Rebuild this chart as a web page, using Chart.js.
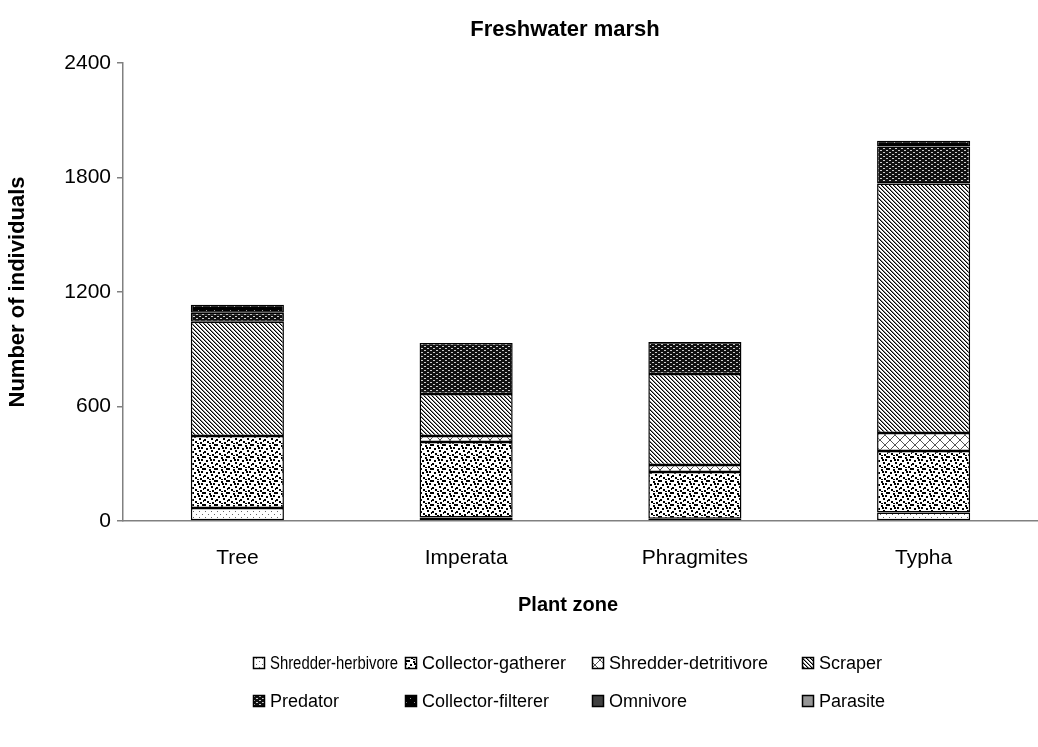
<!DOCTYPE html>
<html>
<head>
<meta charset="utf-8">
<script src="https://cdn.jsdelivr.net/npm/chart.js"></script>
<style>
  html, body { margin: 0; padding: 0; background: #fff; }
  #wrap { width: 1038px; height: 747px; }
</style>
</head>
<body>
<div id="wrap"><canvas id="chart" width="1038" height="747"></canvas></div>
<script>
// Data
const zones = ['Tree', 'Imperata', 'Phragmites', 'Typha'];
const groups = ['Shredder-herbivore', 'Collector-gatherer', 'Shredder-detritivore', 'Scraper',
                'Predator', 'Collector-filterer', 'Omnivore', 'Parasite'];
const shredderHerbivore   = [68, 18, 12, 45];
const collectorGatherer   = [378, 396, 245, 322];
const shredderDetritivore = [0, 31, 36, 94];
const scraper             = [598, 220, 477, 1308];
const predator            = [47, 268, 168, 193];
const collectorFilterer   = [42, 0, 0, 31];
const omnivore            = [0, 0, 0, 0];
const parasite            = [0, 0, 0, 0];
const yTicks = [0, 600, 1200, 1800, 2400];

const FONT = "'Liberation Sans', Arial, sans-serif";

// Excel-style fill patterns
function makePattern(w, h, draw) {
  const c = document.createElement('canvas');
  c.width = w; c.height = h;
  const g = c.getContext('2d');
  draw(g);
  return g.createPattern(c, 'repeat');
}
const px = (g, x, y, col, w = 1, h = 1) => { g.fillStyle = col; g.fillRect(x, y, w, h); };

const patShredHerb = makePattern(6, 6, g => {
  px(g, 0, 0, '#fff', 6, 6);
  px(g, 1, 1, '#666'); px(g, 4, 4, '#666');
});
const patCollGath = makePattern(12, 12, g => {
  px(g, 0, 0, '#fff', 12, 12);
  [[0,0],[5,1],[9,3],[2,4],[7,6],[11,8],[3,9],[8,10],[0,7],[5,11],[10,0],[6,3]].forEach(([x, y]) => px(g, x, y, '#000', 2, 2));
});
const patShredDet = makePattern(10, 10, g => {
  px(g, 0, 0, '#fff', 10, 10);
  for (let i = 0; i < 10; i++) { px(g, i, i, '#555'); px(g, 9 - i, i, '#555'); }
});
const patScraper = makePattern(4, 4, g => {
  px(g, 0, 0, '#fff', 4, 4);
  for (let i = 0; i < 4; i++) { px(g, i, i, '#000'); px(g, (i + 1) % 4, i, '#888'); }
});
const patPredator = makePattern(6, 4, g => {
  px(g, 0, 0, '#111', 6, 4);
  px(g, 1, 0, '#ccc', 2, 1); px(g, 4, 2, '#ccc', 2, 1);
});
const patCollFilt = makePattern(8, 8, g => {
  px(g, 0, 0, '#000', 8, 8);
  px(g, 2, 2, '#999'); px(g, 6, 6, '#999');
});
const fills = [patShredHerb, patCollGath, patShredDet, patScraper, patPredator, patCollFilt, '#404040', '#969696'];
const series = [shredderHerbivore, collectorGatherer, shredderDetritivore, scraper,
                predator, collectorFilterer, omnivore, parasite];

// Chart title and x-axis title sit centred on the whole figure, like Excel did
const titlePlugin = {
  id: 'xlTitle',
  afterDraw(chart) {
    const ctx = chart.ctx;
    ctx.save();
    ctx.fillStyle = '#000';
    ctx.textAlign = 'center';
    ctx.textBaseline = 'middle';
    ctx.font = 'bold 22px ' + FONT;
    ctx.fillText('Freshwater marsh', 565, 30);
    ctx.font = 'bold 20px ' + FONT;
    ctx.fillText('Plant zone', 568, 605);
    ctx.restore();
  }
};
// two-row legend laid out in columns
const legendCols = [253, 405, 592, 802];
const legendWidths = [128, 168, 190, 120];
const legendRows = [663, 701];
const legendPlugin = {
  id: 'xlLegend',
  afterDraw(chart) {
    const ctx = chart.ctx;
    ctx.save();
    ctx.font = '18px ' + FONT;
    ctx.textBaseline = 'middle';
    chart.data.datasets.forEach((ds, i) => {
      const x = legendCols[i % 4], y = legendRows[Math.floor(i / 4)];
      ctx.fillStyle = ds.backgroundColor;
      ctx.fillRect(x, y - 6, 12, 12);
      ctx.strokeStyle = '#000';
      ctx.lineWidth = 1.5;
      ctx.strokeRect(x + 0.5, y - 5.5, 11, 11);
      ctx.fillStyle = '#000';
      ctx.fillText(ds.label, x + 17, y + 1, legendWidths[i % 4]);
    });
    ctx.restore();
  }
};

new Chart(document.getElementById('chart'), {
  type: 'bar',
  data: {
    labels: zones,
    datasets: groups.map((name, i) => ({
      label: name,
      data: series[i],
      backgroundColor: fills[i],
      borderColor: '#000',
      borderWidth: 1.5,
      borderSkipped: false,
      barPercentage: 0.407,
      categoryPercentage: 1
    }))
  },
  options: {
    responsive: false,
    animation: false,
    layout: { padding: { top: 63, right: 0, bottom: 126, left: 0 } },
    plugins: { legend: { display: false }, title: { display: false }, tooltip: { enabled: false } },
    scales: {
      x: {
        stacked: true,
        afterFit: s => { s.height = 100; },
        grid: { drawOnChartArea: false, drawTicks: false },
        border: { color: '#808080', width: 1.5 },
        ticks: { color: '#000', font: { family: FONT, size: 21 }, padding: 25 }
      },
      y: {
        stacked: true,
        min: 0, max: 2400,
        afterFit: s => { s.width = 123; },
        afterBuildTicks: axis => { axis.ticks = yTicks.map(v => ({ value: v })); },
        grid: { drawOnChartArea: false, drawTicks: true, tickLength: 6, color: '#808080', lineWidth: 1.5 },
        border: { color: '#808080', width: 1.5 },
        ticks: { color: '#000', font: { family: FONT, size: 21 }, padding: 6, callback: v => String(v) },
        title: { display: true, text: 'Number of individuals', color: '#000', font: { family: FONT, size: 22, weight: 'bold' }, padding: { top: 5, bottom: 4 } }
      }
    }
  },
  plugins: [titlePlugin, legendPlugin]
});
</script>
</body>
</html>
